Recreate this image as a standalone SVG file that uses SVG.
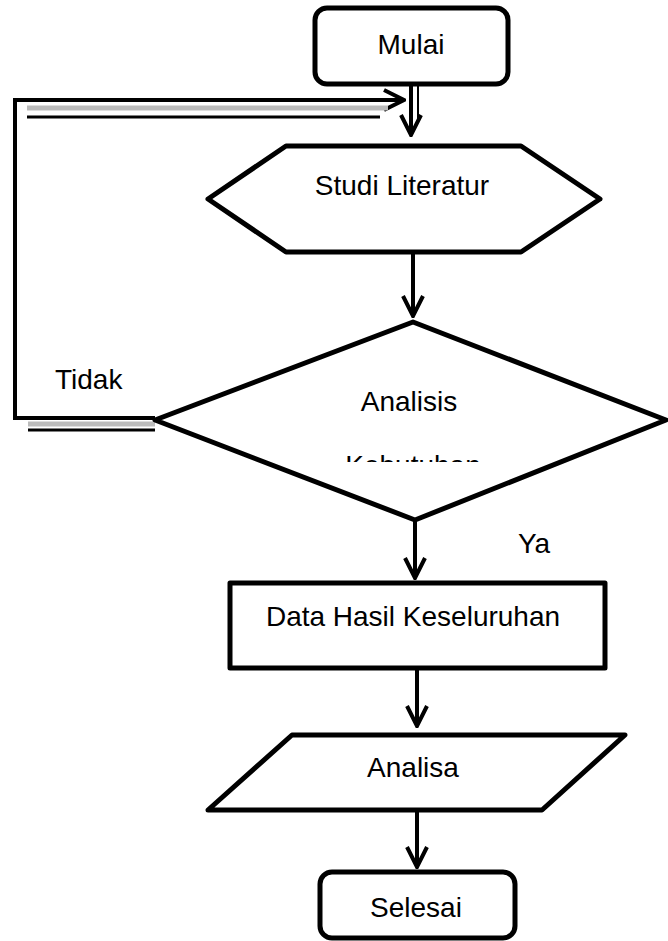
<svg xmlns="http://www.w3.org/2000/svg" width="668" height="941" viewBox="0 0 668 941">
<style>
.s{fill:#fff;stroke:#000;stroke-width:5;stroke-linejoin:round}
.c{fill:none;stroke:#000;stroke-width:4}
.t{font-family:"Liberation Sans",Arial,sans-serif;font-size:28px;fill:#000}
.m{text-anchor:middle}
</style>
<defs>
<marker id="ah" viewBox="0 0 12 12" refX="11" refY="6" markerWidth="6" markerHeight="6" markerUnits="strokeWidth" orient="auto">
<path d="M1,1 L11,6 L1,11" fill="none" stroke="#000" stroke-width="2"/>
</marker>
<clipPath id="kclip"><rect x="0" y="0" width="668" height="462"/></clipPath>
</defs>
<rect width="668" height="941" fill="#fff"/>
<g id="connectors">
<path class="c" d="M155,418 L15,418 L15,100 L404,100" marker-end="url(#ah)"/>
<path d="M28,424 L155,424 M27,108 L388,108" stroke="#bbb" stroke-width="5" fill="none"/>
<path d="M28,430 L155,430 M27,117 L380,117" stroke="#000" stroke-width="3" fill="none"/>
<path class="c" d="M411,84 L411,135" marker-end="url(#ah)"/>
<path d="M418,86 L418,122" stroke="#000" stroke-width="2" fill="none"/>
<path class="c" d="M413,252 L413,316" marker-end="url(#ah)"/>
<path class="c" d="M415,520 L415,578" marker-end="url(#ah)"/>
<path class="c" d="M417,668 L417,726" marker-end="url(#ah)"/>
<path class="c" d="M417,810 L417,867" marker-end="url(#ah)"/>
</g>
<g id="mulai">
<rect class="s" x="315" y="8" width="193" height="76" rx="12"/>
<text class="t m" x="411" y="54">Mulai</text>
</g>
<g id="studi">
<polygon class="s" points="286,146 521,146 600,199 521,252 286,252 208,199"/>
<text class="t m" x="402" y="195">Studi Literatur</text>
</g>
<g id="analisis">
<polygon class="s" points="413,322 666,420 415,520 155,420"/>
<text class="t m" x="409" y="411">Analisis</text>
<text class="t m" x="413" y="475" clip-path="url(#kclip)">Kebutuhan</text>
</g>
<g id="data">
<rect class="s" x="230" y="583" width="375" height="85"/>
<text class="t m" x="413" y="626">Data Hasil Keseluruhan</text>
</g>
<g id="analisa">
<polygon class="s" points="292,735 625,735 542,810 208,810"/>
<text class="t m" x="413" y="777">Analisa</text>
</g>
<g id="selesai">
<rect class="s" x="320" y="872" width="195" height="66" rx="12"/>
<text class="t m" x="416" y="917">Selesai</text>
</g>
<g id="labels">
<text class="t" x="55" y="389">Tidak</text>
<text class="t" x="518" y="553">Ya</text>
</g>
</svg>
